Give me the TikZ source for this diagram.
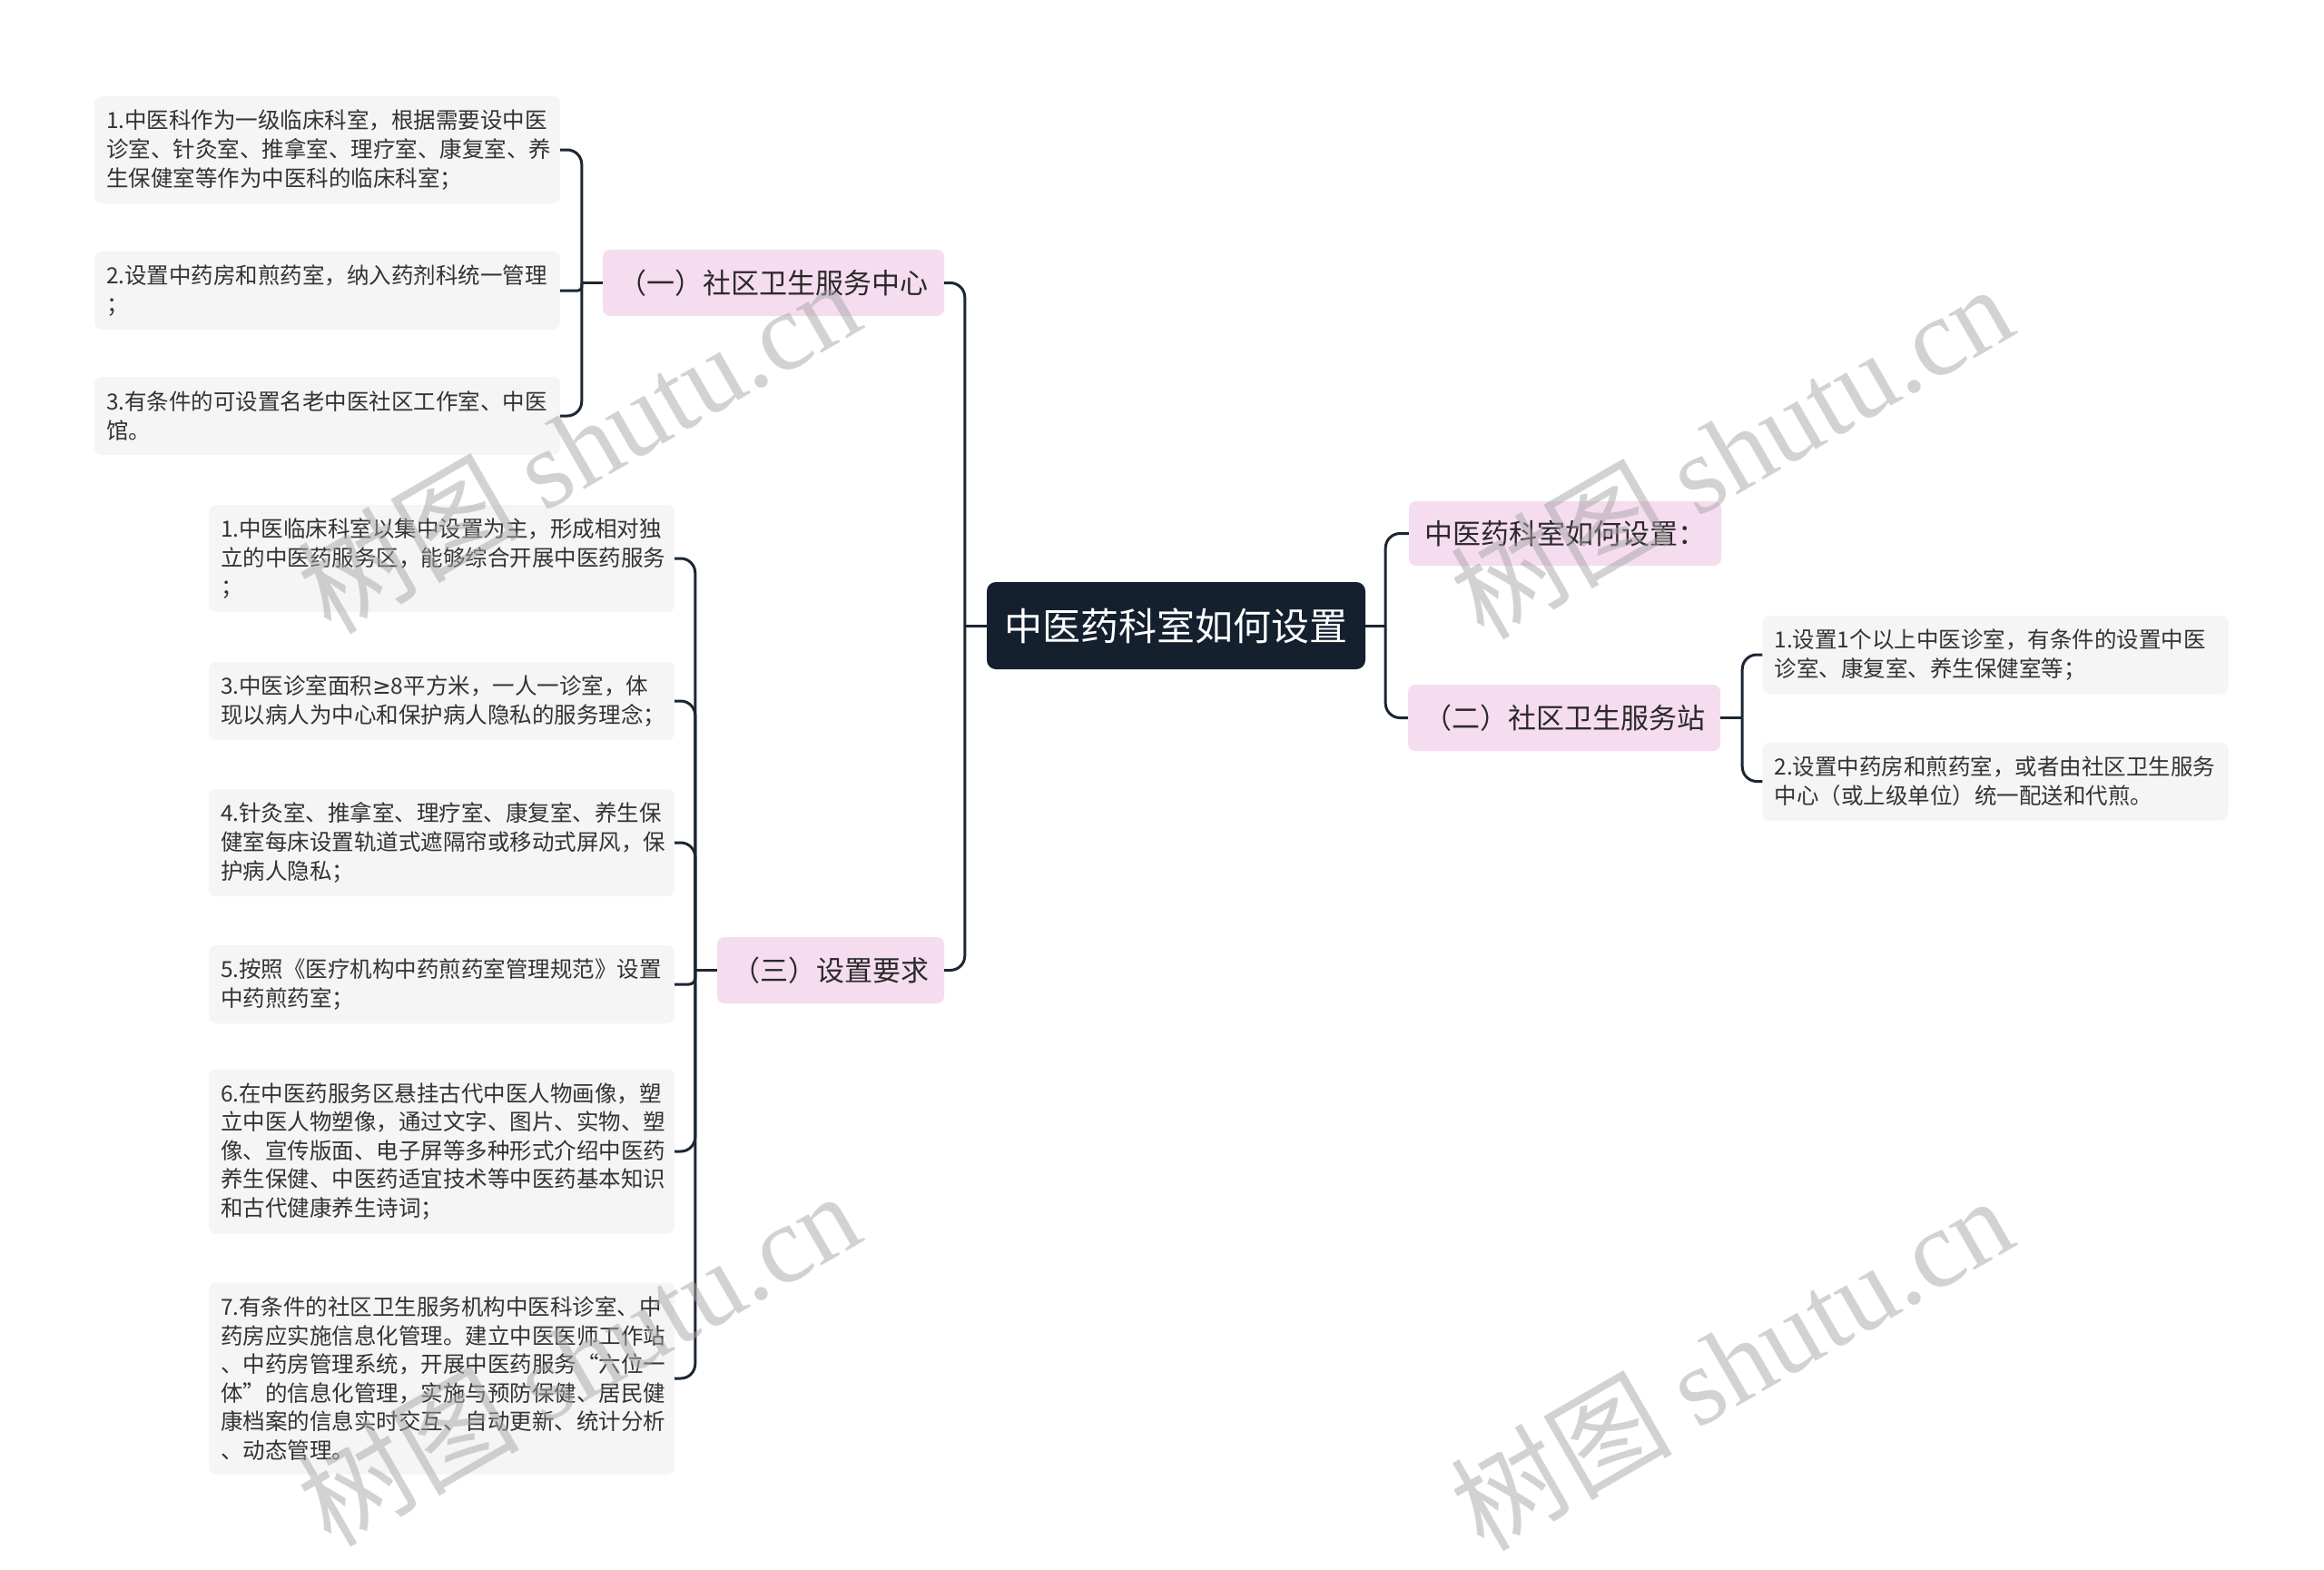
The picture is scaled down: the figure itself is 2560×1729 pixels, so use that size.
\documentclass[tikz,border=0pt]{standalone}
\usepackage{fontspec}
\setmainfont{Noto Sans CJK SC}
\newfontfamily\cjkwm{Noto Sans CJK SC}
\newfontfamily\wmlat{Liberation Serif}
\newfontfamily\djv{DejaVu Sans}
\usetikzlibrary{calc}
\definecolor{connc}{HTML}{1C2633}
\definecolor{rootc}{HTML}{15202E}
\definecolor{pinkc}{HTML}{F5DCEF}
\definecolor{leafc}{HTML}{F5F5F5}
\definecolor{leaftext}{HTML}{333333}
\definecolor{lonetext}{HTML}{2A2A2A}
\definecolor{wmc}{HTML}{A6A6A6}
\newcommand\lffont{\fontsize{24.5}{31.6}\selectfont}
\newcommand\lofont{\fontsize{31}{36}\selectfont}
\newcommand\rtfont{\fontsize{42}{48}\selectfont}
\newcommand\wmfont{\fontsize{122}{130}\selectfont}
\begin{document}
\begin{tikzpicture}[x=1pt,y=-1pt,
  leaf/.style={fill=leafc, rounded corners=8pt, text=leaftext, font=\lffont,
    align=left, text width=487pt, inner xsep=13pt, inner ysep=0pt},
  ltwo/.style={leaf, minimum height=86pt},
  lthree/.style={leaf, minimum height=118pt},
  lfive/.style={leaf, minimum height=181pt},
  lsix/.style={leaf, minimum height=211pt},
  lone/.style={fill=pinkc, rounded corners=8pt, text=lonetext, font=\lofont,
    inner sep=0pt, minimum height=73pt},
  rootn/.style={fill=rootc, rounded corners=10pt, text=white, font=\rtfont,
    inner sep=0pt, minimum width=417pt, minimum height=96pt},
  conn/.style={draw=connc, line width=3pt},
  rc/.style={rounded corners=#1},
  wm/.style={text=wmc, text opacity=0.5, font=\wmfont, inner sep=0pt, anchor=base, rotate=30}
]
\useasboundingbox (0,0) rectangle (2560,1729);
\fill[white] (0,0) rectangle (2560,1729);

% main nodes
\node[rootn] (root) at (1295.5,689) {中医药科室如何设置};
\node[lone, minimum width=344pt, minimum height=71pt] (q) at (1724,587.5) {中医药科室如何设置：};
\node[lone, minimum width=344pt] (two) at (1723,790.5) {（二）社区卫生服务站};
\node[lone, minimum width=376pt] (one) at (852,311.5) {（一）社区卫生服务中心};
\node[lone, minimum width=250pt] (three) at (915,1068.5) {（三）设置要求};

% leaves of (one)
\node[lthree] (a1) at (360.5,165) {1.中医科作为一级临床科室，根据需要设中医\\诊室、针灸室、推拿室、理疗室、康复室、养\\生保健室等作为中医科的临床科室；};
\node[ltwo] (a2) at (360.5,320) {2.设置中药房和煎药室，纳入药剂科统一管理\\；};
\node[ltwo] (a3) at (360.5,458) {3.有条件的可设置名老中医社区工作室、中医\\馆。};

% leaves of (three)
\node[lthree] (c1) at (486.5,615) {1.中医临床科室以集中设置为主，形成相对独\\立的中医药服务区，能够综合开展中医药服务\\；};
\node[ltwo] (c3) at (486.5,772) {3.中医诊室面积{\djv ≥}8平方米，一人一诊室，体\\现以病人为中心和保护病人隐私的服务理念；};
\node[lthree] (c4) at (486.5,928) {4.针灸室、推拿室、理疗室、康复室、养生保\\健室每床设置轨道式遮隔帘或移动式屏风，保\\护病人隐私；};
\node[ltwo] (c5) at (486.5,1084) {5.按照《医疗机构中药煎药室管理规范》设置\\中药煎药室；};
\node[lfive] (c6) at (486.5,1268) {6.在中医药服务区悬挂古代中医人物画像，塑\\立中医人物塑像，通过文字、图片、实物、塑\\像、宣传版面、电子屏等多种形式介绍中医药\\养生保健、中医药适宜技术等中医药基本知识\\和古代健康养生诗词；};
\node[lsix] (c7) at (486.5,1518) {7.有条件的社区卫生服务机构中医科诊室、中\\药房应实施信息化管理。建立中医医师工作站\\、中药房管理系统，开展中医药服务“六位一\\体”的信息化管理，实施与预防保健、居民健\\康档案的信息实时交互、自动更新、统计分析\\、动态管理。};

% leaves of (two)
\node[ltwo] (r1) at (2198,721) {1.设置1个以上中医诊室，有条件的设置中医\\诊室、康复室、养生保健室等；};
\node[ltwo] (r2) at (2198,860.5) {2.设置中药房和煎药室，或者由社区卫生服务\\中心（或上级单位）统一配送和代煎。};

% junctions
\coordinate (jL) at ([xshift=-24pt]root.west);
\coordinate (jR) at ([xshift=22pt]root.east);
\coordinate (jOne) at ([xshift=-23pt]one.west);
\coordinate (jThree) at ([xshift=-24pt]three.west);
\coordinate (jTwo) at ([xshift=24pt]two.east);

% connectors
\draw[conn] (root.west) -- (jL);
\draw[conn, rc=16pt] (jL) |- (one.east);
\draw[conn, rc=16pt] (jL) |- (three.east);
\draw[conn] (root.east) -- (jR);
\draw[conn, rc=16pt] (jR) |- (q.west);
\draw[conn, rc=16pt] (jR) |- (two.west);

\draw[conn] (one.west) -- (jOne);
\draw[conn, rc=16pt] (jOne) |- (a1.east);
\draw[conn, rc=4pt] (jOne) |- (a2.east);
\draw[conn, rc=16pt] (jOne) |- (a3.east);

\draw[conn] (three.west) -- (jThree);
\draw[conn, rc=16pt] (jThree) |- (c1.east);
\draw[conn, rc=16pt] (jThree) |- (c3.east);
\draw[conn, rc=16pt] (jThree) |- (c4.east);
\draw[conn, rc=7pt] (jThree) |- (c5.east);
\draw[conn, rc=16pt] (jThree) |- (c6.east);
\draw[conn, rc=16pt] (jThree) |- (c7.east);

\draw[conn] (two.east) -- (jTwo);
\draw[conn, rc=16pt] (jTwo) |- (r1.west);
\draw[conn, rc=16pt] (jTwo) |- (r2.west);

% watermarks
\node[wm] (wm1) at (660,530) {{\cjkwm 树图} {\wmlat shutu.cn}};
\node[wm] (wm2) at (1930,536) {{\cjkwm 树图} {\wmlat shutu.cn}};
\node[wm] (wm3) at (660,1535) {{\cjkwm 树图} {\wmlat shutu.cn}};
\node[wm] (wm4) at (1930,1540) {{\cjkwm 树图} {\wmlat shutu.cn}};
\end{tikzpicture}
\end{document}
